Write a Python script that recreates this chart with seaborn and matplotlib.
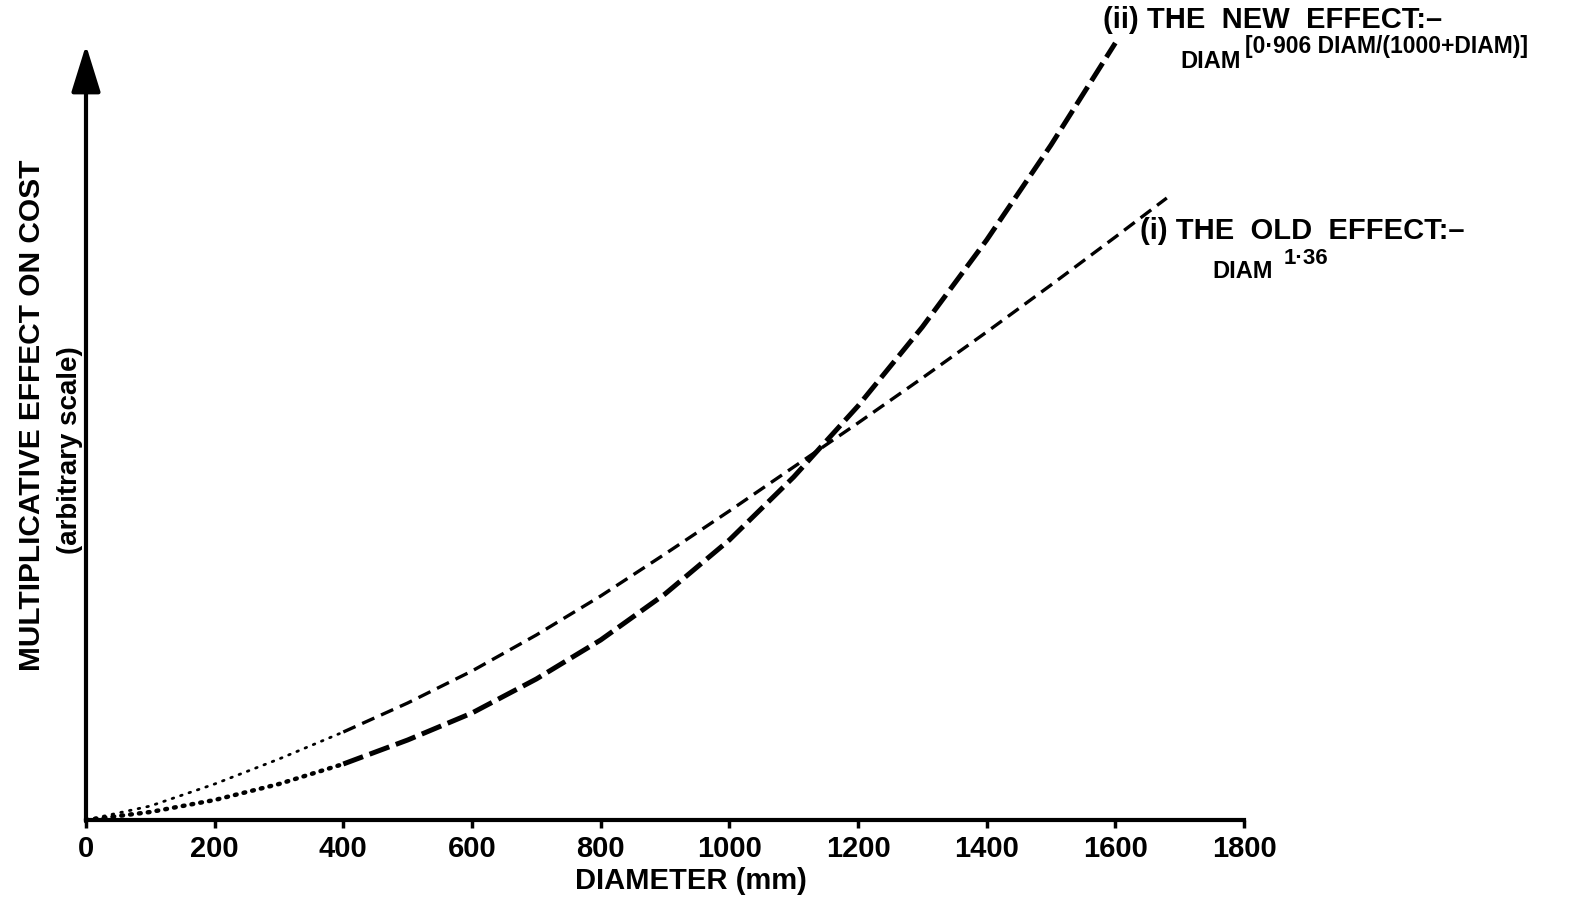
import matplotlib
matplotlib.use("Agg")
import matplotlib.pyplot as plt
import seaborn as sns
import pandas as pd

# ---- data (arbitrary scale) ----
diameter_old = [0, 100, 200, 300, 400, 500, 600, 700, 800, 900, 1000, 1100,
                1200, 1300, 1400, 1500, 1600, 1680]
effect_old = [0, 14, 36, 61, 88, 117, 149, 185, 224, 266, 309, 353,
              397, 442, 488, 535, 583, 622]
diameter_new = [0, 100, 200, 300, 400, 500, 600, 700, 800, 900, 1000, 1100,
                1200, 1300, 1400, 1500, 1600]
effect_new = [0, 8, 20, 36, 56, 80, 107, 141, 180, 226, 280, 343,
              414, 493, 580, 675, 777]
dotted_until = 400  # diameter up to which the curves are drawn dotted
x_ticks = [0, 200, 400, 600, 800, 1000, 1200, 1400, 1600, 1800]

sns.set_theme(style="white")
plt.rcParams["font.family"] = ["Liberation Sans", "DejaVu Sans"]
plt.rcParams["font.weight"] = "bold"

W, H = 1577, 900
fig = plt.figure(figsize=(W / 100, H / 100), dpi=100)
ax_left, ax_right, ax_bottom, ax_top = 86, 1244, 820, 45
ax = fig.add_axes([ax_left / W, 1 - ax_bottom / H,
                   (ax_right - ax_left) / W, (ax_bottom - ax_top) / H])
ax.set_xlim(0, 1800)
ax.set_ylim(0, 775)

old = pd.DataFrame({"d": diameter_old, "e": effect_old})
new = pd.DataFrame({"d": diameter_new, "e": effect_new})

# (i) old effect : thin
sns.lineplot(data=old[old.d <= dotted_until], x="d", y="e", ax=ax, color="black",
             lw=2.0, linestyle=(0, (0.6, 2.6)), dash_capstyle="round", clip_on=False)
sns.lineplot(data=old[old.d >= dotted_until], x="d", y="e", ax=ax, color="black",
             lw=2.4, linestyle=(0, (4.0, 2.2)), clip_on=False)
# (ii) new effect : thick
sns.lineplot(data=new[new.d <= dotted_until], x="d", y="e", ax=ax, color="black",
             lw=3.2, linestyle=(0, (0.4, 1.6)), dash_capstyle="round", clip_on=False)
sns.lineplot(data=new[new.d >= dotted_until], x="d", y="e", ax=ax, color="black",
             lw=3.6, linestyle=(0, (4.2, 1.4)), clip_on=False)

# axes styling
for s in ["top", "right", "left"]:
    ax.spines[s].set_visible(False)
ax.spines["bottom"].set_linewidth(3)
ax.spines["bottom"].set_color("black")
ax.set_xticks(x_ticks)
ax.set_xticklabels([str(t) for t in x_ticks])
ax.set_yticks([])
ax.tick_params(axis="x", direction="out", length=6, width=2.5, color="black",
               bottom=True, labelsize=21, pad=5, labelcolor="black")
for lab in ax.get_xticklabels():
    lab.set_fontweight("bold")
ax.set_xlabel("DIAMETER (mm)", fontsize=21, fontweight="bold", color="black")
ax.xaxis.set_label_coords(0.522, -0.061)
ax.set_ylabel("")

# y axis as an arrow
ax.annotate("", xy=(0, 1.0), xytext=(0, -0.002), xycoords="axes fraction",
            arrowprops=dict(arrowstyle="-|>,head_length=1.45,head_width=0.45",
                            lw=3, color="black", shrinkA=0, shrinkB=0,
                            mutation_scale=20))

def ftext(px, py, s, **kw):
    fig.text(px / W, 1 - py / H, s, color="black", fontweight="bold", **kw)

# y labels
ftext(32, 415, "MULTIPLICATIVE EFFECT ON COST", rotation=90, fontsize=21.5,
      ha="center", va="center")
ftext(70, 450, "(arbitrary scale)", rotation=90, fontsize=20,
      ha="center", va="center")

# curve annotations
ftext(1103, 20, "(ii) THE  NEW  EFFECT:\u2013", fontsize=21, ha="left", va="center")
ftext(1180, 62, "DIAM", fontsize=17, ha="left", va="center")
ftext(1245, 46, "[0\u00b7906 DIAM/(1000+DIAM)]", fontsize=16.5, ha="left", va="center")
ftext(1140, 231, "(i) THE  OLD  EFFECT:\u2013", fontsize=21, ha="left", va="center")
ftext(1212, 271, "DIAM", fontsize=17, ha="left", va="center")
ftext(1284, 259, "1\u00b736", fontsize=16, ha="left", va="center")

fig.savefig("out.png", dpi=100, facecolor="white")
